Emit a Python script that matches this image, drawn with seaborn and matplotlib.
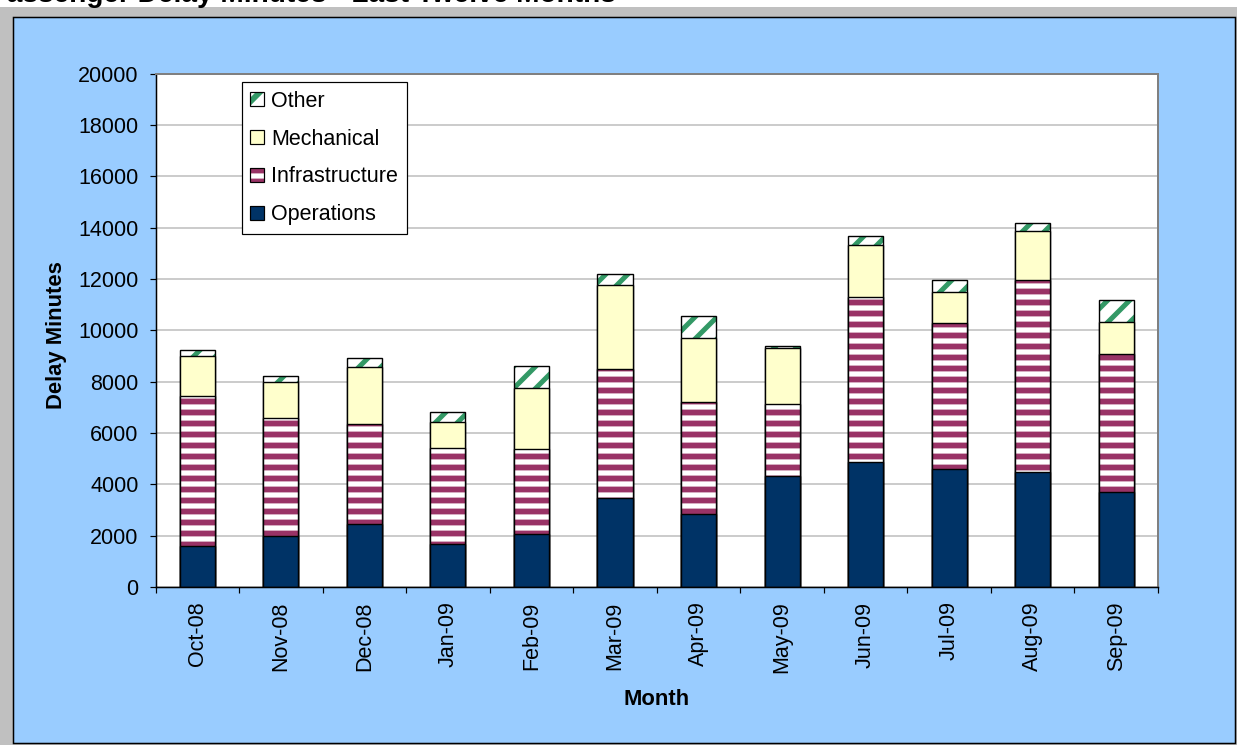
import numpy as np
import pandas as pd
import matplotlib
matplotlib.use("Agg")
import matplotlib.pyplot as plt
from matplotlib.patches import Patch, Rectangle
from matplotlib.legend_handler import HandlerTuple
from matplotlib.ticker import FixedLocator
import seaborn as sns

# Monthly passenger delay minutes by cause
months = ["Oct-08", "Nov-08", "Dec-08", "Jan-09", "Feb-09", "Mar-09",
          "Apr-09", "May-09", "Jun-09", "Jul-09", "Aug-09", "Sep-09"]
operations = [1600, 1980, 2470, 1690, 2060, 3480, 2860, 4320, 4880, 4580, 4490, 3710]
infrastructure = [5830, 4610, 3900, 3730, 3300, 5030, 4350, 2800, 6430, 5720, 7460, 5360]
mechanical = [1560, 1390, 2220, 1010, 2390, 3270, 2490, 2190, 2000, 1190, 1920, 1240]
other = [230, 250, 340, 400, 860, 400, 850, 80, 350, 460, 330, 860]
y_ticks = list(range(0, 20001, 2000))

DPI = 66
W, H = 1237, 745
PT = 72 / DPI  # points per pixel


def fx(px):
    return px / W


def fy(py):
    return 1 - py / H


plt.rcParams["font.family"] = ["Liberation Sans", "DejaVu Sans"]
plt.rcParams["hatch.linewidth"] = 5.8 * PT

NAVY = "#003366"
MAROON = "#993366"
CREAM = "#FFFFCC"
GREEN = "#339966"
SKY = "#99CCFF"
GREY = "#C0C0C0"
FS = 21.5 * PT

df = pd.DataFrame({
    "Month": months,
    "Operations": operations,
    "Infrastructure": infrastructure,
    "Mechanical": mechanical,
    "Other": other,
})
df["top_ops"] = df["Operations"]
df["top_infra"] = df["top_ops"] + df["Infrastructure"]
df["top_mech"] = df["top_infra"] + df["Mechanical"]
df["top_other"] = df["top_mech"] + df["Other"]

fig = plt.figure(figsize=(W / DPI, H / DPI), dpi=DPI, facecolor="white")
fig.add_artist(Rectangle((0, 0), 1, fy(6.5), transform=fig.transFigure,
                         facecolor=GREY, edgecolor="none", zorder=-20))
fig.add_artist(Rectangle((fx(13), fy(743)), fx(1235) - fx(13), fy(16.5) - fy(743),
                         transform=fig.transFigure, facecolor=SKY,
                         edgecolor="black", linewidth=1.5 * PT, zorder=-10))

ax = fig.add_axes([fx(155.5), fy(587), fx(1158) - fx(155.5), fy(73.7) - fy(587)])
ax.set_facecolor("white")
ax.set_axisbelow(True)

BAR_W = 0.42
EDGE = 1.4 * PT

# Stacked segments drawn from the tallest cumulative total downwards
layers = [
    ("top_other", "white", GREEN, "/", 5.0),
    ("top_mech", CREAM, None, None, 5.8),
    ("top_infra", "white", MAROON, "-", 5.8),
    ("top_ops", NAVY, None, None, 5.8),
]
for col, face, hatch_color, hatch, hlw in layers:
    with plt.rc_context({"hatch.linewidth": hlw * PT}):
        if hatch:
            sns.barplot(data=df, x="Month", y=col, color=face, saturation=1,
                        width=BAR_W, errorbar=None, edgecolor=hatch_color,
                        linewidth=0, hatch=hatch, ax=ax)
        else:
            sns.barplot(data=df, x="Month", y=col, color=face, saturation=1,
                        width=BAR_W, errorbar=None, linewidth=0, ax=ax)
    sns.barplot(data=df, x="Month", y=col, color="black", fill=False,
                width=BAR_W, errorbar=None, linewidth=EDGE, ax=ax)

ax.set_ylim(0, 20000)
ax.set_xlim(-0.5, 11.5)
ax.yaxis.set_major_locator(FixedLocator(y_ticks))
ax.set_yticklabels([str(v) for v in y_ticks])
ax.grid(axis="y", color="#C0C0C0", linewidth=1.6 * PT)
ax.grid(axis="x", visible=False)

ax.set_xticks(range(len(months)))
ax.set_xticklabels(months, rotation=90)
ax.set_xticks(np.arange(-0.5, len(months), 1), minor=True)
ax.tick_params(axis="x", which="major", length=0, pad=14.5 * PT, labelsize=FS,
               colors="black")
ax.tick_params(axis="x", which="minor", length=6 * PT, width=1.2 * PT,
               direction="out", color="black")
ax.tick_params(axis="y", length=6 * PT, width=1.2 * PT, pad=11 * PT,
               labelsize=FS, direction="out", color="black")

for side in ["top", "right"]:
    ax.spines[side].set_color("#808080")
    ax.spines[side].set_linewidth(2 * PT)
for side in ["left", "bottom"]:
    ax.spines[side].set_color("black")
    ax.spines[side].set_linewidth(1.5 * PT)

ax.set_xlabel("Month", fontsize=22 * PT, fontweight="bold", ha="center", va="center")
ax.xaxis.set_label_coords(0.5, -0.2201)
ax.set_ylabel("Delay Minutes", fontsize=22 * PT, fontweight="bold",
              ha="center", va="center")
ax.yaxis.set_label_coords(-0.0983, 0.49)

fig.text(fx(-12), fy(2), "Passenger Delay Minutes - Last Twelve Months",
         fontsize=28 * PT, fontweight="bold", ha="left", va="baseline")


def legend_handle(face, hatch_color, hatch):
    base = Patch(facecolor=face, edgecolor=hatch_color or face, linewidth=0,
                 hatch=hatch)
    outline = Patch(facecolor="none", edgecolor="black", linewidth=1.2 * PT)
    return (base, outline)


handles = [
    legend_handle("white", GREEN, "/"),
    legend_handle(CREAM, None, None),
    legend_handle("white", MAROON, "-"),
    legend_handle(NAVY, None, None),
]
labels = ["Other", "Mechanical", "Infrastructure", "Operations"]
leg = ax.legend(handles, labels,
                handler_map={tuple: HandlerTuple(ndivide=1, pad=0)},
                loc="upper left", bbox_to_anchor=(0.086, 0.9833),
                borderaxespad=0, borderpad=0.4, labelspacing=0.78,
                handlelength=0.62, handleheight=0.62, handletextpad=0.36,
                fontsize=FS, frameon=True, fancybox=False, framealpha=1,
                edgecolor="black")
leg.get_frame().set_linewidth(1.2 * PT)

fig.savefig("out.png", dpi=DPI, facecolor=fig.get_facecolor())
